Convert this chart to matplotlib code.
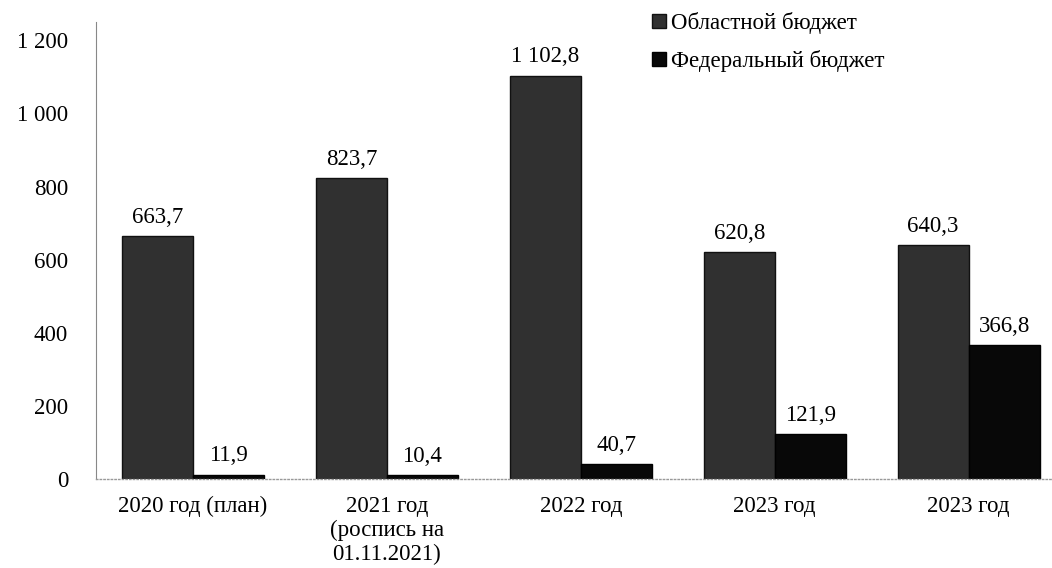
import numpy as np
import matplotlib
matplotlib.use('Agg')
import matplotlib.pyplot as plt
from matplotlib.patches import Patch

plt.rcParams['font.family'] = ['Liberation Serif', 'DejaVu Serif']

# data
categories = ['2020 год (план)', '2021 год\n(роспись на\n01.11.2021)',
              '2022 год', '2023 год', '2023 год']
regional = [663.7, 823.7, 1102.8, 620.8, 640.3]
federal = [11.9, 10.4, 40.7, 121.9, 366.8]
regional_labels = ['663,7', '823,7', '1 102,8', '620,8', '640,3']
federal_labels = ['11,9', '10,4', '40,7', '121,9', '366,8']
yticks = [0, 200, 400, 600, 800, 1000, 1200]
ytick_labels = ['0', '200', '400', '600', '800', '1 000', '1 200']
series_names = ['Областной бюджет', 'Федеральный бюджет']

FS = 16.5

fig = plt.figure(figsize=(10.52, 5.68), dpi=100)
ax = fig.add_axes([96/1052, 1 - 479/568, 1 - 96/1052, (479 - 22)/568])

x = np.arange(len(categories))
w = 0.366

ax.bar(x - w/2, regional, width=w, color='#303030', edgecolor='#111111',
       linewidth=1.0, label=series_names[0])
ax.bar(x + w/2, federal, width=w, color='#080808', edgecolor='#000000',
       linewidth=1.0, label=series_names[1])

for i in range(len(x)):
    ax.annotate(regional_labels[i], (x[i] - w/2, regional[i]),
                xytext=(0, 6), textcoords='offset points',
                ha='center', va='bottom', fontsize=FS)
    ax.annotate(federal_labels[i], (x[i] + w/2, federal[i]),
                xytext=(0, 6), textcoords='offset points',
                ha='center', va='bottom', fontsize=FS)

ax.set_xlim(-0.5, 4.43)
ax.set_ylim(0, 1250)
ax.set_yticks(yticks)
ax.set_yticklabels(ytick_labels, fontsize=FS)
ax.set_xticks(x)
ax.set_xticklabels(categories, fontsize=FS, linespacing=1.2)
ax.tick_params(axis='y', length=0, pad=20)
ax.tick_params(axis='x', length=0, pad=12)

for s in ['top', 'right']:
    ax.spines[s].set_visible(False)
ax.spines['left'].set_color('#888888')
ax.spines['left'].set_linewidth(0.8)
ax.spines['bottom'].set_color('#999999')
ax.spines['bottom'].set_linestyle(':')
ax.spines['bottom'].set_linewidth(1.0)

handles = [Patch(facecolor='#303030', edgecolor='#111111'),
           Patch(facecolor='#080808', edgecolor='#000000')]
fig.legend(handles, series_names, loc='upper left',
           bbox_to_anchor=(652/1052, 1 - 12/568), frameon=False,
           fontsize=FS, handlelength=0.6, handleheight=0.6,
           handletextpad=0.25, labelspacing=0.7, borderaxespad=0,
           borderpad=0)

plt.savefig('out.png', dpi=100)
